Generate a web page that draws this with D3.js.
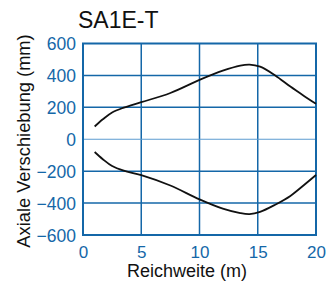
<!DOCTYPE html>
<html><head><meta charset="utf-8">
<script src="https://cdn.jsdelivr.net/npm/d3@7"></script>
<style>body{margin:0;background:#fff}svg{display:block}text{font-family:"Liberation Sans",Arial,sans-serif}</style>
</head><body>
<svg id="c" width="327" height="282"></svg>
<script>
const title = "SA1E-T";
const xLabel = "Reichweite (m)";
const yLabel = "Axiale Verschiebung (mm)";
const xTicks = [0, 5, 10, 15, 20];
const yTicks = [-600, -400, -200, 0, 200, 400, 600];
const upperX = [1, 1.7, 2.5, 3.5, 5, 7.5, 10, 12, 13.5, 14.3, 15.2, 16.5, 17.8, 19, 20];
const upperY = [80, 125, 168, 198, 232, 290, 372, 430, 462, 468, 455, 400, 330, 270, 222];
const lowerX = [1, 1.7, 2.5, 3.5, 5, 7.5, 10, 12, 13.5, 14.3, 15.2, 16.5, 17.8, 19, 20];
const lowerY = [-80, -125, -168, -197, -225, -290, -377, -435, -463, -469, -455, -410, -355, -285, -224];

const svg = d3.select("#c");
const blue = "#1467a8";
const x = d3.scaleLinear().domain([0, 20]).range([83, 316]);
const y = d3.scaleLinear().domain([-600, 600]).range([235, 43.5]);

// grid
const g = svg.append("g");
g.selectAll("line.v").data(xTicks.slice(1, -1)).join("line")
  .attr("x1", d => x(d)).attr("x2", d => x(d)).attr("y1", y(600)).attr("y2", y(-600))
  .attr("stroke", blue).attr("stroke-width", 1.5);
g.selectAll("line.h").data(yTicks.slice(1, -1)).join("line")
  .attr("x1", x(0)).attr("x2", x(20)).attr("y1", d => y(d)).attr("y2", d => y(d))
  .attr("stroke", d => d === 0 ? "#5b9bd0" : blue).attr("stroke-width", d => d === 0 ? 1.2 : 1.5);
g.append("rect").attr("x", x(0)).attr("y", y(600)).attr("width", x(20) - x(0)).attr("height", y(-600) - y(600))
  .attr("fill", "none").attr("stroke", blue).attr("stroke-width", 2);

// axes
const ya = svg.append("g").attr("transform", `translate(${x(0)},0)`)
  .call(d3.axisLeft(y).tickValues(yTicks).tickSize(0).tickPadding(7));
ya.select(".domain").remove();
ya.selectAll("text").attr("fill", blue).style("font-size", "17.5px").attr("dy", "0.36em");
const xa = svg.append("g").attr("transform", `translate(0,${y(-600)})`)
  .call(d3.axisBottom(x).tickValues(xTicks).tickSize(0).tickPadding(11));
xa.select(".domain").remove();
xa.selectAll("text").attr("fill", blue).style("font-size", "17px").attr("dy", "0.71em");

// lines
const line = d3.line().x(d => x(d[0])).y(d => y(d[1])).curve(d3.curveCatmullRom.alpha(0.5));
[[upperX, upperY], [lowerX, lowerY]].forEach(([xs, ys]) => {
  svg.append("path").datum(xs.map((v, i) => [v, ys[i]])).attr("d", line)
    .attr("fill", "none").attr("stroke", "#111").attr("stroke-width", 1.8);
});

// titles
svg.append("text").attr("x", 78).attr("y", 28).style("font-size", "23px").attr("fill", "#111").text(title);
svg.append("text").attr("x", 187).attr("y", 276.5).attr("text-anchor", "middle")
  .style("font-size", "18px").attr("fill", "#111").text(xLabel);
svg.append("text").attr("transform", `translate(30,141) rotate(-90)`).attr("text-anchor", "middle")
  .style("font-size", "18.3px").attr("fill", "#111").text(yLabel);
</script>
</body></html>
